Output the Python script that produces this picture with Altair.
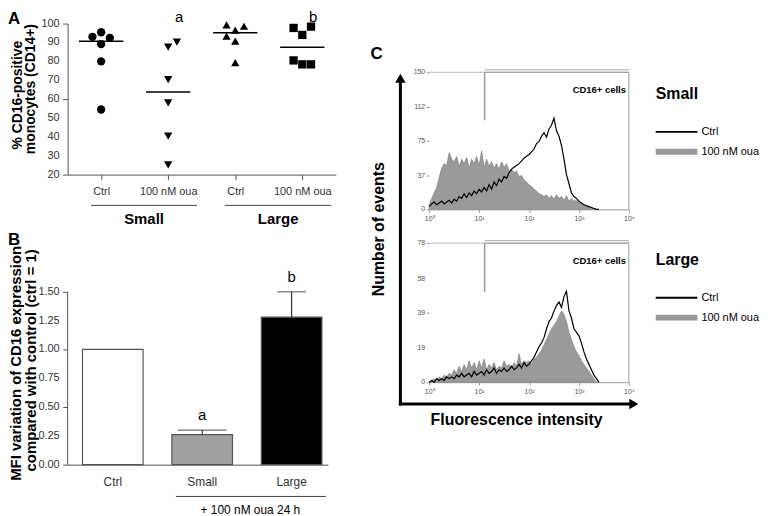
import altair as alt
import pandas as pd

# ---------------- Panel A data ----------------
a_labels = ["Ctrl", "100 nM oua", "Ctrl", "100 nM oua"]
a_keys = ["ctrl_small", "oua_small", "ctrl_large", "oua_large"]
a_shapes = ["circle", "triangle-down", "triangle-up", "square"]
a_ctrl_small = [95.4, 93.0, 92.4, 89.1, 80.0, 54.5]
a_oua_small = [90.2, 87.5, 70.3, 58.0, 40.4, 25.1]
a_ctrl_large = [99.3, 98.6, 96.5, 93.3, 90.7, 79.3]
a_oua_large = [97.7, 98.4, 94.0, 80.5, 78.4, 78.4]
a_jit_ctrl_small = [0, -0.13, 0.13, 0, 0, 0]
a_jit_oua_small = [0.13, 0, 0, 0, 0, 0]
a_jit_ctrl_large = [-0.13, 0.13, 0, -0.13, 0, 0]
a_jit_oua_large = [-0.13, 0.13, 0, -0.13, 0, 0.13]
a_means = [90.7, 63.8, 95.1, 87.5]
a_sig = ["", "a", "", "b"]
a_groups = ["Small", "Large"]
a_group_start = [0.85, 2.85]
a_group_end = [2.43, 4.43]
a_yticks = [20, 30, 40, 50, 60, 70, 80, 90, 100]

# ---------------- Panel B data ----------------
b_cats = ["Ctrl", "Small", "Large"]
b_vals = [1.00, 0.26, 1.28]
b_err = [0.00, 0.04, 0.22]
b_sig = ["", "a", "b"]
b_fill = ["white", "#a0a0a0", "black"]
b_yticks = [0, 0.25, 0.5, 0.75, 1.0, 1.25, 1.5]

# ---------------- Panel C data (log10 fluorescence) ----------------
hist_x = [round(0.05 * i, 2) for i in range(69)]
small_oua = [5, 12, 18, 24, 35, 45, 50, 48, 62, 55,
             52, 58, 47, 55, 50, 57, 45, 55, 50, 58,
             48, 64, 46, 55, 47, 52, 45, 50, 44, 52,
             46, 50, 42, 44, 40, 42, 36, 37, 32, 30,
             27, 25, 22, 20, 17, 16, 14, 16, 12, 15,
             11, 16, 12, 14, 10, 15, 9, 12, 9, 10,
             8, 6, 5, 4, 3, 2, 1, 0, 0]
small_ctrl = [3, 6, 8, 5, 7, 9, 6, 8, 10, 7,
              11, 9, 14, 12, 17, 13, 18, 15, 20, 17,
              22, 19, 24, 20, 27, 22, 30, 26, 33, 30,
              36, 34, 40, 44, 46, 48, 50, 53, 56, 58,
              60, 63, 66, 72, 74, 80, 84, 79, 88, 92,
              100, 86, 80, 70, 55, 38, 28, 18, 14, 12,
              9, 7, 5, 4, 3, 2, 1, 0, 0]
large_oua = [0, 1, 2, 1, 3, 2, 4, 3, 5, 4,
             7, 5, 9, 6, 10, 7, 12, 8, 11, 7,
             12, 8, 13, 7, 10, 8, 11, 7, 9, 8,
             12, 9, 10, 8, 11, 9, 16, 10, 12, 11,
             12, 10, 13, 14, 16, 18, 21, 24, 27, 30,
             32, 34, 37, 40, 38, 34, 28, 24, 20, 17,
             15, 12, 10, 8, 6, 4, 2, 0, 0]
large_ctrl = [0, 1, 0, 2, 1, 2, 1, 3, 2, 3,
              2, 4, 3, 5, 3, 4, 5, 3, 6, 4,
              5, 6, 4, 7, 5, 6, 8, 5, 7, 6,
              8, 6, 7, 9, 7, 8, 10, 8, 11, 9,
              10, 12, 14, 17, 20, 22, 25, 30, 34, 36,
              40, 43, 45, 42, 48, 51, 40, 36, 30, 28,
              26, 22, 17, 13, 10, 7, 4, 2, 0]
c_top_ticks = [0, 37, 75, 112, 150]
c_bot_ticks = [0, 19, 39, 58, 78]
c_series = ["Ctrl", "100 nM oua"]

FONT = "Liberation Sans"
AX = "#555555"
one = pd.DataFrame({"k": [0]})


def txt(text, x, y, size, weight="normal", angle=0, align="center",
        baseline="middle", color="black"):
    return alt.Chart(one).mark_text(
        text=text, fontSize=size, fontWeight=weight, angle=angle,
        align=align, baseline=baseline, color=color, font=FONT
    ).encode(x=alt.value(x), y=alt.value(y))


def hrule(x1, x2, y, color="black", width=1.0):
    return alt.Chart(one).mark_rule(color=color, strokeWidth=width).encode(
        x=alt.value(x1), x2=alt.value(x2), y=alt.value(y))


def vrule(x, y1, y2, color="black", width=1.0):
    return alt.Chart(one).mark_rule(color=color, strokeWidth=width).encode(
        x=alt.value(x), y=alt.value(y1), y2=alt.value(y2))


def ylabels(ticks, scale, fmt, size, x, color="#333"):
    return alt.Chart(pd.DataFrame({"v": ticks})).mark_text(
        align="right", baseline="middle", fontSize=size, font=FONT, color=color
    ).encode(x=alt.value(x), y=alt.Y("v:Q", scale=scale, title=None),
             text=alt.Text("v:Q", format=fmt))


# ================= Panel A =================
rows = []
for i, (vals, jits) in enumerate([
        (a_ctrl_small, a_jit_ctrl_small), (a_oua_small, a_jit_oua_small),
        (a_ctrl_large, a_jit_ctrl_large), (a_oua_large, a_jit_oua_large)]):
    for v, j in zip(vals, jits):
        rows.append({"x": i + 1 + j, "y": v, "key": a_keys[i]})
df_a = pd.DataFrame(rows)
df_a_mean = pd.DataFrame({"pos": [1, 2, 3, 4], "mean": a_means, "sig": a_sig})
df_a_grp = pd.DataFrame({"label": a_groups, "x1": a_group_start, "x2": a_group_end})

xs_a = alt.Scale(domain=[0.5, 4.5], nice=False, zero=False)
ys_a = alt.Scale(domain=[20, 100], nice=False, zero=False)

a_points = alt.Chart(df_a).mark_point(filled=True, color="black", size=70, opacity=1).encode(
    x=alt.X("x:Q", scale=xs_a, title=None,
            axis=alt.Axis(values=[1, 2, 3, 4], grid=False, tickSize=5, labelPadding=6,
                          labelFontSize=11, labelOverlap=False,
                          labelExpr="datum.value % 2 == 1 ? 'Ctrl' : '100 nM oua'",
                          domainColor=AX, tickColor=AX, labelColor="#333")),
    y=alt.Y("y:Q", scale=ys_a, title=None,
            axis=alt.Axis(values=a_yticks, grid=False, tickSize=5, labels=False,
                          domainColor=AX, tickColor=AX)),
    shape=alt.Shape("key:N", scale=alt.Scale(domain=a_keys, range=a_shapes), legend=None),
)
a_mean = alt.Chart(df_a_mean).transform_calculate(
    lo="datum.pos - 0.33", hi="datum.pos + 0.33"
).mark_rule(color="black", strokeWidth=1.5).encode(
    x=alt.X("lo:Q", scale=xs_a, title=None), x2="hi:Q",
    y=alt.Y("mean:Q", scale=ys_a, title=None))
a_sigtxt = alt.Chart(df_a_mean).mark_text(fontSize=15, font=FONT, dx=11).encode(
    x=alt.X("pos:Q", scale=xs_a, title=None), y=alt.value(-7), text="sig:N")
a_under = alt.Chart(df_a_grp).mark_rule(color="#444", strokeWidth=1).encode(
    x=alt.X("x1:Q", scale=xs_a, title=None), x2="x2:Q", y=alt.value(183))
a_grptxt = alt.Chart(df_a_grp).transform_calculate(
    xc="(datum.x1 + datum.x2) / 2"
).mark_text(fontSize=15, fontWeight="bold", font=FONT).encode(
    x=alt.X("xc:Q", scale=xs_a, title=None), y=alt.value(197), text="label:N")
a_anchor = alt.Chart(one).mark_rect(opacity=0).encode(
    x=alt.value(-60), x2=alt.value(-59), y=alt.value(-13), y2=alt.value(-12))

panel_a = alt.layer(
    a_points, a_mean, a_sigtxt, a_under, a_grptxt, a_anchor,
    ylabels(a_yticks, ys_a, "d", 11, -8),
    txt("A", -60, -13, 17, "bold", align="left", baseline="top"),
    txt("% CD16-positive", -50, 72, 14, "bold", angle=270),
    txt("monocytes (CD14+)", -37, 66, 14, "bold", angle=270),
).properties(width=270, height=152)

# ================= Panel B =================
df_b = pd.DataFrame({"cat": b_cats, "val": b_vals, "err": b_err, "sig": b_sig})
df_b["top"] = df_b["val"] + df_b["err"]
xs_b = alt.Scale(domain=b_cats, paddingInner=0.322, paddingOuter=0.1167, align=0.714)
ys_b = alt.Scale(domain=[0, 1.9224], nice=False, zero=True)

b_x = alt.X("cat:N", sort=b_cats, scale=xs_b, title=None,
            axis=alt.Axis(labelAngle=0, ticks=False, labelPadding=12, labelFontSize=12,
                          labelOverlap=False, domainColor=AX, labelColor="#333"))
b_bars = alt.Chart(df_b).mark_bar(stroke="#555", strokeWidth=1.2).encode(
    x=b_x,
    y=alt.Y("val:Q", scale=ys_b, title=None,
            axis=alt.Axis(values=b_yticks, domain=False, grid=False, tickSize=5,
                          labels=False, tickColor=AX)),
    fill=alt.Fill("cat:N", scale=alt.Scale(domain=b_cats, range=b_fill), legend=None),
)
b_errbase = alt.Chart(df_b).transform_filter("datum.err > 0")
b_errrule = b_errbase.mark_rule(color="#333", strokeWidth=1.2).encode(
    x=alt.X("cat:N", sort=b_cats, scale=xs_b, title=None),
    y=alt.Y("val:Q", scale=ys_b, title=None), y2="top:Q")
b_errcap = b_errbase.mark_tick(color="#333", thickness=1.2).encode(
    x=alt.X("cat:N", sort=b_cats, scale=xs_b, title=None),
    y=alt.Y("top:Q", scale=ys_b, title=None),
    size=alt.condition("datum.cat == 'Small'", alt.value(49), alt.value(29)))
b_sigtxt = alt.Chart(df_b).mark_text(fontSize=15, font=FONT, baseline="bottom", dy=-7).encode(
    x=alt.X("cat:N", sort=b_cats, scale=xs_b, title=None),
    y=alt.Y("top:Q", scale=ys_b, title=None), text="sig:N")
b_yline = alt.Chart(one).mark_rule(color=AX, strokeWidth=1).encode(
    x=alt.value(0), y=alt.datum(0), y2=alt.datum(1.5))

panel_b = alt.layer(
    b_bars, b_errrule, b_errcap, b_sigtxt, b_yline,
    ylabels(b_yticks, ys_b, ".2f", 11, -8),
    hrule(109, 260, 255, "#444", 1),
    txt("+ 100 nM oua 24 h", 184, 269, 12),
    txt("B", -60, -11, 17, "bold", align="left", baseline="top"),
    txt("MFI variation of CD16 expression", -52, 121, 15, "bold", angle=270),
    txt("compared with control (ctrl = 1)", -37, 118, 15, "bold", angle=270),
).properties(width=262, height=223)


# ================= Panel C =================
def hist_panel(ctrl, oua, top, ydom_max, height, ticks, label_y, extra):
    df = pd.DataFrame({
        "x": hist_x * 2,
        "count": list(ctrl) + list(oua),
        "series": [c_series[0]] * len(hist_x) + [c_series[1]] * len(hist_x),
    })
    xs = alt.Scale(domain=[0, 4], nice=False, zero=False)
    ys = alt.Scale(domain=[0, ydom_max], nice=False, zero=True)
    xax = alt.Axis(values=[0, 1, 2, 3, 4], grid=False, tickSize=3, labelPadding=2,
                   labelFontSize=7, labelOverlap=False, labelFlush=False,
                   domainColor="#999", tickColor="#999", labelColor="#555",
                   labelExpr="'10' + ['\u2070','\u00b9','\u00b2','\u00b3','\u2074'][datum.value]")
    yax = alt.Axis(values=ticks, grid=False, tickSize=3, labels=False,
                   domain=False, tickColor="#999")
    area = alt.Chart(df).transform_filter(f"datum.series == '{c_series[1]}'").mark_area(
        color="#9a9a9a", stroke="#7a7a7a", strokeWidth=0.6, interpolate="linear", opacity=1
    ).encode(x=alt.X("x:Q", scale=xs, axis=xax, title=None),
             y=alt.Y("count:Q", scale=ys, axis=yax, title=None))
    line = alt.Chart(df).transform_filter(f"datum.series == '{c_series[0]}'").mark_line(
        color="black", strokeWidth=1.2, interpolate="linear"
    ).encode(x=alt.X("x:Q", scale=xs, title=None),
             y=alt.Y("count:Q", scale=ys, title=None))
    frame_top = alt.Chart(one).mark_rule(color="#bbbbbb", strokeWidth=1).encode(
        x=alt.datum(0), x2=alt.datum(4), y=alt.datum(top))
    frame_right = alt.Chart(one).mark_rule(color="#999999", strokeWidth=1).encode(
        x=alt.datum(4), y=alt.datum(0), y2=alt.datum(top))
    gate_v = alt.Chart(one).mark_rule(color="#999999", strokeWidth=1.5).encode(
        x=alt.datum(1.11), y=alt.datum(top), y2=alt.datum(top * 0.65))
    gate_h1 = alt.Chart(one).mark_rule(color="#999999", strokeWidth=1).encode(
        x=alt.datum(1.11), x2=alt.datum(4), y=alt.datum(top))
    gate_h2 = alt.Chart(one).mark_rule(color="#aaaaaa", strokeWidth=1, yOffset=-2.5).encode(
        x=alt.datum(1.11), x2=alt.datum(4), y=alt.datum(top))
    layers = [area, line, frame_top, frame_right, gate_v, gate_h1, gate_h2,
              ylabels(ticks, ys, "d", 7, -4, "#555"),
              txt("CD16+ cells", 198, label_y, 9.5, "bold", align="right")]
    return alt.layer(*layers, *extra).properties(width=201, height=height)


def legend(title, y0):
    return [
        txt(title, 228, y0, 16, "bold", align="left"),
        hrule(228, 270, y0 + 38, "black", 1.8),
        txt("Ctrl", 274, y0 + 38, 11, align="left"),
        alt.Chart(one).mark_rect(color="#9a9a9a").encode(
            x=alt.value(228), x2=alt.value(270), y=alt.value(y0 + 55), y2=alt.value(y0 + 61)),
        txt("100 nM oua", 274, y0 + 58, 11, align="left"),
    ]


c_top_extra = [txt("C", -59, 23, 17, "bold", align="left", baseline="top")] + legend("Small", 71)
c_bot_extra = legend("Large", 17) + [
    vrule(-29, 163.5, -164, "black", 3),
    alt.Chart(one).mark_point(shape="triangle-up", filled=True, color="black", size=110, opacity=1).encode(
        x=alt.value(-29), y=alt.value(-166)),
    hrule(-30.5, 203, 162, "black", 3),
    alt.Chart(one).mark_point(shape="triangle-right", filled=True, color="black", size=110, opacity=1).encode(
        x=alt.value(206), y=alt.value(162)),
    txt("Number of events", -50, -14, 16, "bold", angle=270),
    txt("Fluorescence intensity", 88, 178, 16, "bold"),
]

panel_ct = hist_panel(small_ctrl, small_oua, 150, 150 * 187 / 138, 187, c_top_ticks, 67, c_top_extra)
panel_cb = hist_panel(large_ctrl, large_oua, 78, 78, 140, c_bot_ticks, 18, c_bot_extra)

chart = alt.concat(
    panel_a, panel_ct, panel_b, panel_cb,
    columns=2, spacing={"row": 34, "column": 94}, bounds="flush", align="each",
).properties(padding=0).configure(font=FONT).configure_view(stroke=None).configure_axis(
    labelFont=FONT, titleFont=FONT, labelOverlap=False)

chart.save("out.html", embed_options={"renderer": "svg", "actions": False})
